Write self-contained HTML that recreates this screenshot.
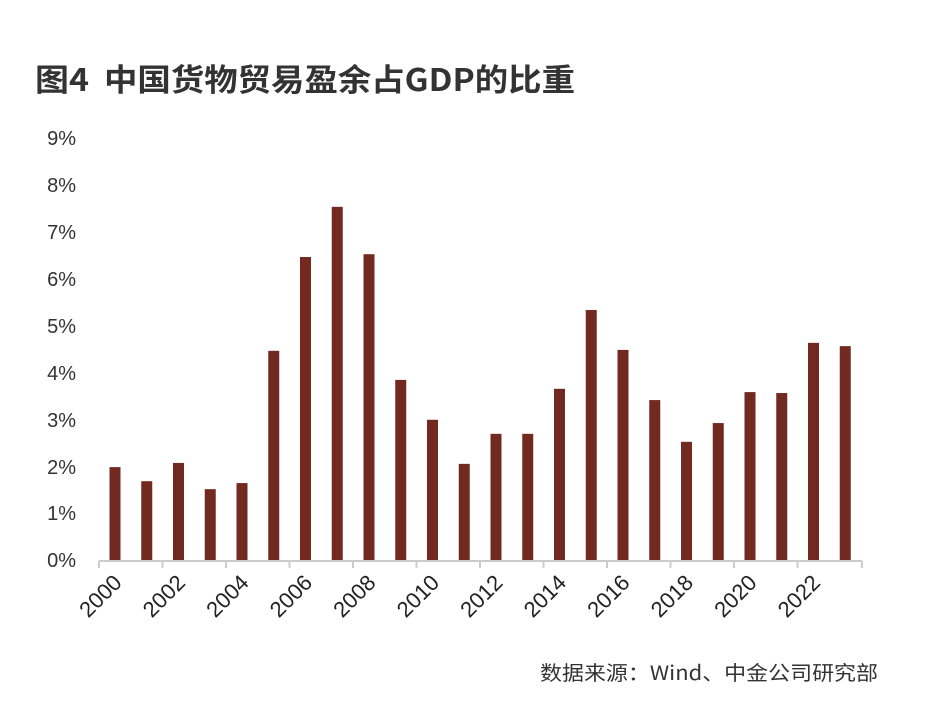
<!DOCTYPE html>
<html><head><meta charset="utf-8"><style>
html,body{margin:0;padding:0;background:#fff;width:932px;height:716px;overflow:hidden}
</style></head><body>
<svg width="932" height="716" xmlns="http://www.w3.org/2000/svg">
<g font-family="'Noto Sans CJK SC',sans-serif" font-weight="bold" font-size="31" fill="#333">
<text x="35" y="91" textLength="54" lengthAdjust="spacingAndGlyphs">图4</text>
<text x="104" y="91" textLength="471" lengthAdjust="spacingAndGlyphs">中国货物贸易盈余占GDP的比重</text>
</g>
<g font-family="'Liberation Sans',sans-serif" font-size="20" fill="#333" text-anchor="end">
<text x="76" y="145">9%</text><text x="76" y="192">8%</text><text x="76" y="239">7%</text>
<text x="76" y="286">6%</text><text x="76" y="333">5%</text><text x="76" y="380">4%</text>
<text x="76" y="427">3%</text><text x="76" y="474">2%</text><text x="76" y="520">1%</text>
<text x="76" y="567">0%</text>
</g>
<g id="bars" fill="#722a20"></g>
<line x1="99" y1="561" x2="862" y2="561" stroke="#ccc" stroke-width="2"/>
<g id="ticks" stroke="#ccc" stroke-width="2"></g>
<g id="labels" font-family="'Liberation Sans',sans-serif" font-size="22" fill="#222" text-anchor="end"></g>
<text x="540" y="680" font-family="'Noto Sans CJK SC',sans-serif" font-size="20" fill="#333" textLength="338" lengthAdjust="spacingAndGlyphs">数据来源：Wind、中金公司研究部</text>
<script>
var v=[1.98,1.68,2.07,1.51,1.64,4.46,6.46,7.53,6.52,3.84,2.99,2.05,2.69,2.69,3.65,5.33,4.48,3.41,2.52,2.92,3.58,3.56,4.63,4.56];
var ns="http://www.w3.org/2000/svg",b=document.getElementById('bars'),t=document.getElementById('ticks'),l=document.getElementById('labels');
var sp=31.75,u=46.9,y0=560;
v.forEach(function(d,i){var c=115+i*sp;var r=document.createElementNS(ns,'rect');
r.setAttribute('x',c-5.5);r.setAttribute('width',11);r.setAttribute('y',y0-d*u);r.setAttribute('height',d*u);b.appendChild(r);
if(i%2==0){var ln=document.createElementNS(ns,'line');var tx=99+i*sp;ln.setAttribute('x1',tx);ln.setAttribute('x2',tx);ln.setAttribute('y1',561);ln.setAttribute('y2',568);t.appendChild(ln);
var tt=document.createElementNS(ns,'text');tt.setAttribute('transform','translate('+(c+8)+',584) rotate(-45)');tt.textContent=2000+i;l.appendChild(tt);}
});
var ln=document.createElementNS(ns,'line');ln.setAttribute('x1',862);ln.setAttribute('x2',862);ln.setAttribute('y1',561);ln.setAttribute('y2',568);t.appendChild(ln);
</script>
</svg>
</body></html>
